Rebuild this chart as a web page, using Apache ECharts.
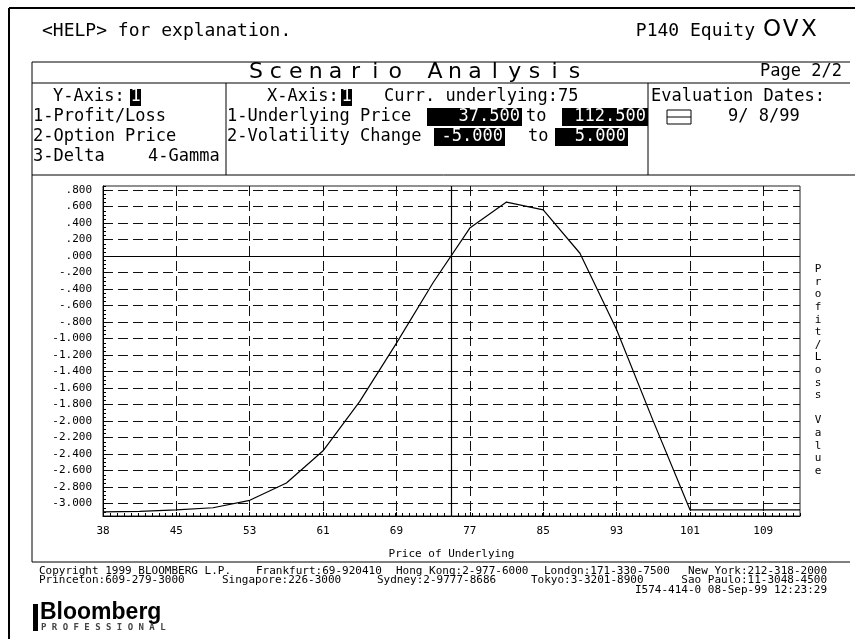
<!DOCTYPE html>
<html><head><meta charset="utf-8">
<script src="https://cdn.jsdelivr.net/npm/echarts@6/dist/echarts.min.js"></script>
<style>html,body{margin:0;padding:0;background:#fff}#c{width:855px;height:639px}</style>
</head><body><div id="c"></div>
<script>
// ---- data ----
const priceX = [37.5, 41.45, 45.39, 49.34, 53.29, 57.24, 61.18, 65.13, 69.08, 73.03,
                76.97, 80.92, 84.87, 88.82, 92.76, 96.71, 100.66, 104.61, 108.55, 112.5];
const profitLoss = [-3.10, -3.095, -3.075, -3.05, -2.96, -2.75, -2.36, -1.76, -1.055, -0.32,
                    0.34, 0.655, 0.56, 0.035, -0.89, -2.00, -3.075, -3.075, -3.075, -3.075];
const xTickValues = [37.5, 45.39, 53.29, 61.18, 69.08, 76.97, 84.87, 92.76, 100.66, 108.55];
const xTickLabels = ['38', '45', '53', '61', '69', '77', '85', '93', '101', '109'];
const yTickValues = [-3.0, -2.8, -2.6, -2.4, -2.2, -2.0, -1.8, -1.6, -1.4, -1.2, -1.0,
                     -0.8, -0.6, -0.4, -0.2, 0.0, 0.2, 0.4, 0.6, 0.8];
const yTickLabels = ['-3.000', '-2.800', '-2.600', '-2.400', '-2.200', '-2.000', '-1.800', '-1.600',
                     '-1.400', '-1.200', '-1.000', '-.800', '-.600', '-.400', '-.200', '.000',
                     '.200', '.400', '.600', '.800'];
const currUnderlying = 75;
const priceRange = ['37.500', '112.500'];
const volRange = ['-5.000', '5.000'];
const evalDate = '9/ 8/99';

// ---- helpers ----
const MONO = '"DejaVu Sans Mono", monospace';
function lookup(vals, labels, v) {
  let b = 0;
  for (let i = 1; i < vals.length; i++) if (Math.abs(vals[i] - v) < Math.abs(vals[b] - v)) b = i;
  return Math.abs(vals[b] - v) < 0.01 ? labels[b] : '';
}
function T(x, y, text, font, extra) {
  const st = Object.assign({ text: text, font: font, fill: '#000', align: 'left', verticalAlign: 'middle',
    textAlign: 'left', textVerticalAlign: 'middle' }, extra || {});
  if (extra && extra.align) st.textAlign = extra.align;
  return { type: 'text', x: x, y: y, silent: true, style: st };
}
function L(x1, y1, x2, y2, w, c) {
  return { type: 'line', silent: true, shape: { x1: x1, y1: y1, x2: x2, y2: y2 },
    style: { stroke: c || '#000', lineWidth: w || 1 } };
}
function R(x, y, w, h, fill, stroke) {
  return { type: 'rect', silent: true, shape: { x: x, y: y, width: w, height: h },
    style: { fill: fill || '#000', stroke: stroke || null, lineWidth: 1 } };
}

const F17 = '17px ' + MONO;
const F11 = '11px ' + MONO;
const g = [];
// outer frame
g.push(L(9, 8, 855, 8, 2), L(9, 8, 9, 639, 2));
// header texts
g.push(T(42, 31, '<HELP> for explanation.', '18px ' + MONO));
g.push(T(755, 31, 'P140 Equity', '18px ' + MONO, { align: 'right' }));
['O', 'V', 'X'].forEach((ch, i) => g.push(T(772 + i * 18.5, 30, ch, '23px "DejaVu Sans", sans-serif', { align: 'center' })));
// boxes
g.push(L(32, 62, 850, 62), L(32, 83, 850, 83), L(32, 175, 855, 175), L(32, 562, 850, 562));
g.push(L(32, 62, 32, 562), L(226, 83, 226, 175), L(648, 83, 648, 175));
'Scenario Analysis'.split('').forEach((ch, i) =>
  g.push(T(256 + i * 19.9, 72, ch, '22px "DejaVu Sans", sans-serif', { align: 'center' })));
g.push(T(842, 72, 'Page 2/2', F17, { align: 'right' }));
// row 1
g.push(T(53, 97, 'Y-Axis:', F17));
g.push(R(130, 89, 11, 17), T(135.5, 97, '1', F17, { align: 'center', fill: '#fff' }));
g.push(T(267, 97, 'X-Axis:', F17));
g.push(R(341, 89, 11, 17), T(346.5, 97, '1', F17, { align: 'center', fill: '#fff' }));
g.push(T(384, 97, 'Curr. underlying:' + currUnderlying, F17));
g.push(T(651, 97, 'Evaluation Dates:', F17));
// row 2
g.push(T(33, 117, '1-Profit/Loss', F17));
g.push(T(227, 117, '1-Underlying Price', F17));
g.push(R(427, 108, 95, 18), T(520, 117, priceRange[0], F17, { align: 'right', fill: '#fff' }));
g.push(T(526, 117, 'to', F17));
g.push(R(562, 108, 86, 18), T(646, 117, priceRange[1], F17, { align: 'right', fill: '#fff' }));
g.push(R(667, 110, 24, 14, '#fff', '#000'), L(667, 117, 691, 117));
g.push(T(728, 117, evalDate, F17));
// row 3
g.push(T(33, 137, '2-Option Price', F17));
g.push(T(227, 137, '2-Volatility Change', F17));
g.push(R(434, 128, 71, 18), T(503, 137, volRange[0], F17, { align: 'right', fill: '#fff' }));
g.push(T(528, 137, 'to', F17));
g.push(R(555, 128, 73, 18), T(626, 137, volRange[1], F17, { align: 'right', fill: '#fff' }));
// row 4
g.push(T(33, 157, '3-Delta', F17));
g.push(T(148, 157, '4-Gamma', F17));
// right vertical axis title
g.push(T(818, 263, 'P\nr\no\nf\ni\nt\n/\nL\no\ns\ns\n \nV\na\nl\nu\ne', F11,
  { align: 'center', verticalAlign: 'top', textVerticalAlign: 'top', lineHeight: 12.6 }));
// footer
const FF = '11px ' + MONO;
g.push(T(39, 571, 'Copyright 1999 BLOOMBERG L.P.', FF));
g.push(T(256, 571, 'Frankfurt:69-920410', FF));
g.push(T(396, 571, 'Hong Kong:2-977-6000', FF));
g.push(T(544, 571, 'London:171-330-7500', FF));
g.push(T(827, 571, 'New York:212-318-2000', FF, { align: 'right' }));
g.push(T(39, 580, 'Princeton:609-279-3000', FF));
g.push(T(222, 580, 'Singapore:226-3000', FF));
g.push(T(377, 580, 'Sydney:2-9777-8686', FF));
g.push(T(531, 580, 'Tokyo:3-3201-8900', FF));
g.push(T(827, 580, 'Sao Paulo:11-3048-4500', FF, { align: 'right' }));
g.push(T(827, 590, 'I574-414-0 08-Sep-99 12:23:29', FF, { align: 'right' }));
// logo
g.push(R(33, 604, 5, 27));
g.push(T(40, 613, 'Bloomberg', 'bold 23px "Liberation Sans", Arial, sans-serif'));
g.push(T(41, 628, 'P R O F E S S I O N A L', 'bold 9px ' + MONO, { fill: '#444' }));

const dash = [10, 5];
const chart = echarts.init(document.getElementById('c'), null, { renderer: 'canvas' });
chart.setOption({
  animation: false,
  backgroundColor: '#fff',
  grid: { left: 103, top: 186, width: 697, height: 330, show: true, borderColor: '#222', borderWidth: 1,
    backgroundColor: 'transparent' },
  xAxis: [{
    type: 'value', min: 37.5, max: 112.5,
    name: 'Price of Underlying', nameLocation: 'middle', nameGap: 33,
    nameTextStyle: { fontFamily: 'DejaVu Sans Mono', fontSize: 11, color: '#000' },
    axisLine: { show: true, onZero: false, lineStyle: { color: '#000', width: 1 } },
    axisTick: { show: true, inside: true, length: 4, customValues: xTickValues, lineStyle: { color: '#000' } },
    axisLabel: { customValues: xTickValues, margin: 10, color: '#000', fontFamily: 'DejaVu Sans Mono', fontSize: 11,
      formatter: v => lookup(xTickValues, xTickLabels, v) },
    splitLine: { show: true, lineStyle: { color: '#111', type: dash, width: 1 } }
  }, {
    type: 'value', min: 37.5, max: 112.5, interval: 0.75, position: 'bottom',
    axisLine: { show: false, onZero: false }, axisLabel: { show: false }, splitLine: { show: false },
    axisTick: { show: true, inside: true, length: 3, lineStyle: { color: '#000' } }
  }],
  yAxis: [{
    type: 'value', min: -3.15, max: 0.85,
    axisLine: { show: true, onZero: false, lineStyle: { color: '#000', width: 1 } },
    axisTick: { show: true, inside: true, length: 4, customValues: yTickValues, lineStyle: { color: '#000' } },
    axisLabel: { customValues: yTickValues, margin: 11, color: '#000', fontFamily: 'DejaVu Sans Mono', fontSize: 11,
      formatter: v => lookup(yTickValues, yTickLabels, v) },
    splitLine: { show: true, lineStyle: { color: '#111', type: dash, width: 1 } }
  }, {
    type: 'value', min: -3.15, max: 0.85, interval: 0.05, position: 'left',
    axisLine: { show: false, onZero: false }, axisLabel: { show: false }, splitLine: { show: false },
    axisTick: { show: true, inside: true, length: 3, lineStyle: { color: '#000' } }
  }],
  series: [{
    type: 'line', xAxisIndex: 0, yAxisIndex: 0,
    data: priceX.map((x, i) => [x, profitLoss[i]]),
    showSymbol: false, symbol: 'none', smooth: false,
    lineStyle: { color: '#000', width: 1.2 },
    markLine: { silent: true, symbol: ['none', 'none'], label: { show: false },
      lineStyle: { color: '#000', type: 'solid', width: 1.2 },
      data: [{ yAxis: 0 }, { xAxis: currUnderlying }] }
  }],
  graphic: { elements: g }
});
</script></body></html>
